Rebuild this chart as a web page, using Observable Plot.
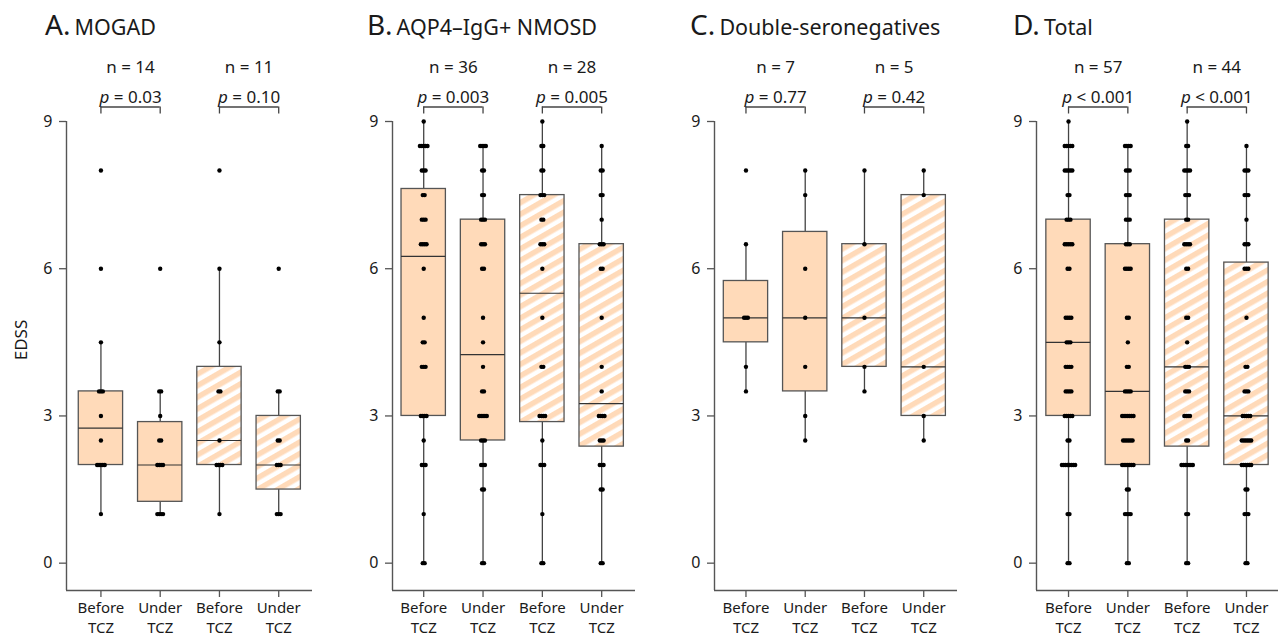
<!DOCTYPE html>
<html><head><meta charset="utf-8">
<script src="https://cdn.jsdelivr.net/npm/d3@7"></script>
<script src="https://cdn.jsdelivr.net/npm/@observablehq/plot@0.6"></script>
<style>
body{margin:0;background:#fff;}
#chart{position:relative;width:1281px;height:639px;overflow:hidden;font-family:"Noto Sans",sans-serif;color:#1a1a1a;}
.panel{position:absolute;top:0;}
.panel svg{max-width:none !important;}
.title{position:absolute;top:6px;white-space:nowrap;line-height:36px;}
.title .l{font-size:28px;}
.title .n{font-size:21.5px;}
.ylab{position:absolute;left:20px;top:340px;font-size:17px;transform:translate(-50%,-50%) rotate(-90deg);white-space:nowrap;}
</style></head><body>
<svg width="0" height="0" style="position:absolute"><defs>
<pattern id="hatch" patternUnits="userSpaceOnUse" width="10" height="10" patternTransform="rotate(-30)">
<rect width="10" height="10" fill="white"/><rect width="10" height="5.5" fill="#FFDAB9"/>
</pattern></defs></svg>
<div id="chart"><div class="ylab">EDSS</div></div>
<script>
// ---- data ----
const groupLabels = ["Before\nTCZ", "Under\nTCZ", "Before\nTCZ", "Under\nTCZ"];
const hatched = [false, false, true, true];
const panelLetters = ["A.", "B.", "C.", "D."];
const panelNames = ["MOGAD", "AQP4\u2013IgG+ NMOSD", "Double-seronegatives", "Total"];
const nLabels = [["n = 14", "n = 11"], ["n = 36", "n = 28"], ["n = 7", "n = 5"], ["n = 57", "n = 44"]];
const pLabels = [["p = 0.03", "p = 0.10"], ["p = 0.003", "p = 0.005"], ["p = 0.77", "p = 0.42"], ["p < 0.001", "p < 0.001"]];
const yTicks = [0, 3, 6, 9];

const mogadBefore = [1,2,2,2,2,2,2.5,3,3.5,3.5,3.5,4.5,6,8];
const mogadUnder = [1,1,1,1,2,2,2,2,2.5,2.5,3,3.5,3.5,6];
const mogadBefore2 = [1,2,2,2,2,2.5,3.5,3.5,4.5,6,8];
const mogadUnder2 = [1,1,1,2,2,2,2.5,2.5,3.5,3.5,6];

const aqp4Before = [0,0,1,2,2,2,2.5,3,3,3,3,4,4,4,4.5,4.5,5,6,6.5,6.5,6.5,6.5,7,7,7,7.5,7.5,8,8,8,8.5,8.5,8.5,8.5,8.5,9];
const aqp4Under = [0,0,1.5,1.5,2,2,2,2.5,2.5,2.5,3,3,3,3,3,3.5,3.5,4,4.5,5,6,6,6.5,6.5,6.5,7,7,7,7.5,7.5,8,8,8.5,8.5,8.5,8.5];
const aqp4Before2 = [0,0,1,2,2,2,2.5,3,3,3,3,4,4,5,6,6.5,6.5,6.5,7,7,7.5,7.5,7.5,8,8,8.5,8.5,9];
const aqp4Under2 = [0,0,1.5,1.5,2,2,2,2.5,2.5,2.5,3,3,3,3,3.5,4,5,6,6,6.5,6.5,6.5,7,7.5,7.5,8,8,8.5];

const dnBefore = [3.5,4,5,5,5,6.5,8];
const dnUnder = [2.5,3,4,5,6,7.5,8];
const dnBefore2 = [3.5,4,5,6.5,8];
const dnUnder2 = [2.5,3,4,7.5,8];

const totalBefore = [...mogadBefore, ...aqp4Before, ...dnBefore];
const totalUnder = [...mogadUnder, ...aqp4Under, ...dnUnder];
const totalBefore2 = [...mogadBefore2, ...aqp4Before2, ...dnBefore2];
const totalUnder2 = [...mogadUnder2, ...aqp4Under2, ...dnUnder2];

const panelGroups = [
  [mogadBefore, mogadUnder, mogadBefore2, mogadUnder2],
  [aqp4Before, aqp4Under, aqp4Before2, aqp4Under2],
  [dnBefore, dnUnder, dnBefore2, dnUnder2],
  [totalBefore, totalUnder, totalBefore2, totalUnder2]
];

// ---- layout ----
const PX = 59.35;          // px per group step
const HW = 0.374;          // half box width (group units)
const JIT = 0.032;         // horizontal spread for ties
const panelLeft = [0, 326, 648, 970];
const panelXMin = [0.419, 0.474, 0.469, 0.46];
const panelXMax = [4.57, 4.57, 4.57, 4.54];
const panelMR = [8, 8, 8, 2];
const titleX = [45, 367, 690, 1013];
const ML = 66, MT = 121, MB = 49, H = 639;
const yBottom = -0.557;
const brTop = 9 + 14.5 / 49.07, brBot = 9 + 7.5 / 49.07;
const peach = "#FFDAB9", lineCol = "#555";

function boxStats(values, pos, hatch) {
  const s = values.slice().sort(d3.ascending);
  const q1 = d3.quantile(s, 0.25), med = d3.quantile(s, 0.5), q3 = d3.quantile(s, 0.75);
  const iqr = q3 - q1;
  const lo = d3.min(s.filter(v => v >= q1 - 1.5 * iqr));
  const hi = d3.max(s.filter(v => v <= q3 + 1.5 * iqr));
  return {pos, q1, med, q3, lo, hi, hatch};
}
function tiePoints(values, pos) {
  const counts = d3.rollup(values, v => v.length, d => d);
  const out = [];
  for (const [v, c] of counts) for (let i = 0; i < c; i++) out.push({v, xj: pos + (i - (c - 1) / 2) * JIT});
  return out;
}

const chart = document.getElementById("chart");
panelGroups.forEach((groups, p) => {
  const stats = groups.map((g, i) => boxStats(g, i + 1, hatched[i]));
  const pts = groups.flatMap((g, i) => tiePoints(g, i + 1));
  const pairs = [0, 1].map(k => ({a: 2 * k + 1, b: 2 * k + 2, mid: 2 * k + 1.5, n: nLabels[p][k], pl: pLabels[p][k]}));
  const legs = pairs.flatMap(d => [d.a, d.b]);
  const xmin = panelXMin[p], xmax = panelXMax[p];
  const MR = panelMR[p];
  const W = Math.round(ML + (xmax - xmin) * PX + MR);
  const svg = Plot.plot({
    width: W, height: H,
    marginLeft: ML, marginRight: MR, marginTop: MT, marginBottom: MB,
    x: {domain: [xmin, xmax]},
    y: {domain: [yBottom, 9]},
    style: {fontFamily: "Noto Sans", fontSize: "16px", color: "#1a1a1a", background: "transparent", overflow: "visible", maxWidth: "none"},
    marks: [
      Plot.axisY({ticks: yTicks, tickSize: 7, tickPadding: 7, fontSize: 16, stroke: lineCol, strokeWidth: 1.3, label: null}),
      Plot.axisX({ticks: [1, 2, 3, 4], tickFormat: d => groupLabels[d - 1], tickSize: 7, tickPadding: 1.5, fontSize: 15, lineHeight: 1.333, stroke: lineCol, strokeWidth: 1.3, label: null}),
      Plot.ruleX([xmin], {stroke: lineCol, strokeWidth: 1.4}),
      Plot.ruleY([yBottom], {stroke: lineCol, strokeWidth: 1.4}),
      Plot.ruleX(stats, {x: "pos", y1: "lo", y2: "q1", stroke: "#444", strokeWidth: 1.3}),
      Plot.ruleX(stats, {x: "pos", y1: "q3", y2: "hi", stroke: "#444", strokeWidth: 1.3}),
      Plot.rect(stats.filter(d => !d.hatch), {x1: d => d.pos - HW, x2: d => d.pos + HW, y1: "q1", y2: "q3", fill: peach, stroke: lineCol, strokeWidth: 1.3}),
      Plot.rect(stats.filter(d => d.hatch), {x1: d => d.pos - HW, x2: d => d.pos + HW, y1: "q1", y2: "q3", fill: "url(#hatch)", stroke: lineCol, strokeWidth: 1.3}),
      Plot.ruleY(stats, {y: "med", x1: d => d.pos - HW, x2: d => d.pos + HW, stroke: "#333", strokeWidth: 1.2}),
      Plot.dot(pts, {x: "xj", y: "v", r: 2.2, fill: "black", stroke: null}),
      Plot.ruleY(pairs, {x1: "a", x2: "b", y: () => brTop, stroke: "#444", strokeWidth: 1.3}),
      Plot.ruleX(legs, {x: d => d, y1: () => brTop, y2: () => brBot, stroke: "#444", strokeWidth: 1.3}),
      Plot.text(pairs, {x: "mid", text: "n", frameAnchor: "top", dy: -61, fontSize: 17, fill: "#1a1a1a"}),
      Plot.text(pairs, {x: "mid", text: "pl", frameAnchor: "top", dy: -31, fontSize: 17, fill: "#1a1a1a"})
    ]
  });
  svg.style.maxWidth = "none";
  d3.select(svg).selectAll("text").each(function () {
    const t = this.textContent;
    if (t.startsWith("p ") && this.children.length === 0) {
      this.textContent = "";
      d3.select(this).append("tspan").attr("font-style", "italic").text("p");
      d3.select(this).append("tspan").text(t.slice(1));
    }
  });
  const wrap = document.createElement("div");
  wrap.className = "panel";
  wrap.style.left = panelLeft[p] + "px";
  wrap.style.width = W + "px";
  wrap.appendChild(svg);
  chart.appendChild(wrap);
  const title = document.createElement("div");
  title.className = "title";
  title.style.left = titleX[p] + "px";
  title.innerHTML = `<span class="l">${panelLetters[p]}</span> <span class="n">${panelNames[p]}</span>`;
  chart.appendChild(title);
});
</script></body></html>
